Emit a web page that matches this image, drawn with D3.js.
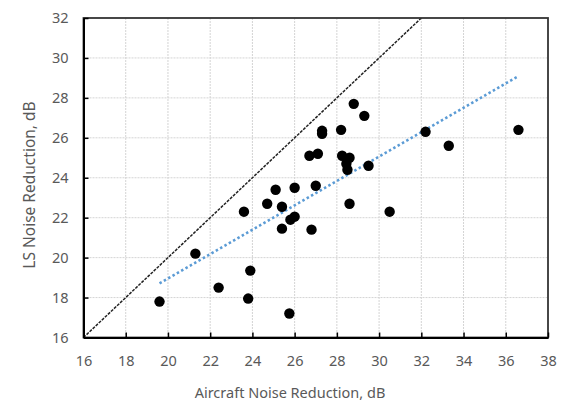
<!DOCTYPE html>
<html>
<head>
<meta charset="utf-8">
<script src="https://cdn.jsdelivr.net/npm/d3@7"></script>
<style>
  html, body { margin: 0; padding: 0; background: #fff; }
  svg { display: block; }
  text { font-family: "Noto Sans", "Open Sans", sans-serif; fill: #595959; }
</style>
</head>
<body>
<svg id="chart" width="567" height="402"></svg>
<script>
// Measured noise reduction per aircraft event (dB)
const aircraftNR = [19.6, 21.3, 22.4, 23.8, 23.9, 23.6, 24.7, 25.1, 25.4, 25.8, 26.0, 25.4, 26.8,
  25.75, 26.0, 27.0, 28.6, 30.5, 26.7, 27.1, 27.3, 27.3, 28.2, 28.8, 29.3, 28.25, 28.6, 28.45,
  28.5, 29.5, 32.2, 33.3, 36.6];
const lsNR = [17.8, 20.2, 18.5, 17.95, 19.35, 22.3, 22.7, 23.4, 22.55, 21.9, 22.05, 21.45, 21.4,
  17.2, 23.5, 23.6, 22.7, 22.3, 25.1, 25.2, 26.35, 26.2, 26.4, 27.7, 27.1, 25.1, 25.0, 24.7,
  24.4, 24.6, 26.3, 25.6, 26.4];
const xTicks = [16, 18, 20, 22, 24, 26, 28, 30, 32, 34, 36, 38];
const yTicks = [16, 18, 20, 22, 24, 26, 28, 30, 32];
const xDomain = [16, 38];
const yDomain = [16, 32];

const svg = d3.select("#chart");
const plot = { left: 83.5, top: 18, right: 548, bottom: 337.5 };

const x = d3.scaleLinear().domain(xDomain).range([plot.left, plot.right]);
const y = d3.scaleLinear().domain(yDomain).range([plot.bottom, plot.top]);

// grid lines
const grid = svg.append("g");
grid.selectAll("line.v").data(xTicks.slice(1, -1)).join("line")
  .attr("x1", d => x(d)).attr("x2", d => x(d))
  .attr("y1", plot.top).attr("y2", plot.bottom)
  .attr("stroke", "#d4d4d4").attr("stroke-width", 1).attr("stroke-dasharray", "2 1");
grid.selectAll("line.h").data(yTicks.slice(1, -1)).join("line")
  .attr("y1", d => y(d)).attr("y2", d => y(d))
  .attr("x1", plot.left).attr("x2", plot.right)
  .attr("stroke", "#d4d4d4").attr("stroke-width", 1).attr("stroke-dasharray", "2 1");

// clip for lines inside the plot area
svg.append("clipPath").attr("id", "plotClip").append("rect")
  .attr("x", plot.left).attr("y", plot.top)
  .attr("width", plot.right - plot.left).attr("height", plot.bottom - plot.top);

// 1:1 reference line
svg.append("line")
  .attr("clip-path", "url(#plotClip)")
  .attr("x1", x(16)).attr("y1", y(16))
  .attr("x2", x(32)).attr("y2", y(32))
  .attr("stroke", "#222").attr("stroke-width", 1.5).attr("stroke-dasharray", "3 1.2");

// least-squares linear trend over the data range
const n = aircraftNR.length;
const mx = d3.mean(aircraftNR), my = d3.mean(lsNR);
let sxy = 0, sxx = 0;
for (let i = 0; i < n; i++) {
  sxy += (aircraftNR[i] - mx) * (lsNR[i] - my);
  sxx += (aircraftNR[i] - mx) ** 2;
}
const slope = sxy / sxx, icpt = my - slope * mx;
const [xmin, xmax] = d3.extent(aircraftNR);
svg.append("line")
  .attr("x1", x(xmin)).attr("y1", y(icpt + slope * xmin))
  .attr("x2", x(xmax)).attr("y2", y(icpt + slope * xmax))
  .attr("stroke", "#5b9bd5").attr("stroke-width", 2.5).attr("stroke-dasharray", "2.5 2.5");

// data points
svg.append("g").selectAll("circle")
  .data(aircraftNR.map((v, i) => [v, lsNR[i]]))
  .join("circle")
  .attr("cx", d => x(d[0])).attr("cy", d => y(d[1]))
  .attr("r", 5.2).attr("fill", "#000");

// plot frame
svg.append("rect")
  .attr("x", plot.left).attr("y", plot.top)
  .attr("width", plot.right - plot.left).attr("height", plot.bottom - plot.top)
  .attr("fill", "none").attr("stroke", "#333").attr("stroke-width", 1.8);

// axes with inward ticks
const xAxis = svg.append("g").attr("transform", `translate(0,${plot.bottom})`)
  .call(d3.axisBottom(x).tickValues(xTicks).tickSizeInner(-5).tickSizeOuter(0).tickPadding(18));
const yAxis = svg.append("g").attr("transform", `translate(${plot.left},0)`)
  .call(d3.axisLeft(y).tickValues(yTicks).tickSizeInner(-5).tickSizeOuter(0).tickPadding(15));
[xAxis, yAxis].forEach(a => {
  a.select(".domain").attr("stroke", "#000").attr("stroke-width", 2);
  a.selectAll(".tick line").attr("stroke", "#000").attr("stroke-width", 1.5);
  a.selectAll(".tick text").attr("fill", "#595959").style("font-size", "14.5px")
    .style("font-family", '"Noto Sans", sans-serif');
});

// axis titles
svg.append("text")
  .attr("x", 290).attr("y", 398)
  .attr("text-anchor", "middle").style("font-size", "14.5px")
  .text("Aircraft Noise Reduction, dB");
svg.append("text")
  .attr("transform", "translate(35,185) rotate(-90)")
  .attr("text-anchor", "middle").style("font-size", "15.5px")
  .text("LS Noise Reduction, dB");
</script>
</body>
</html>
